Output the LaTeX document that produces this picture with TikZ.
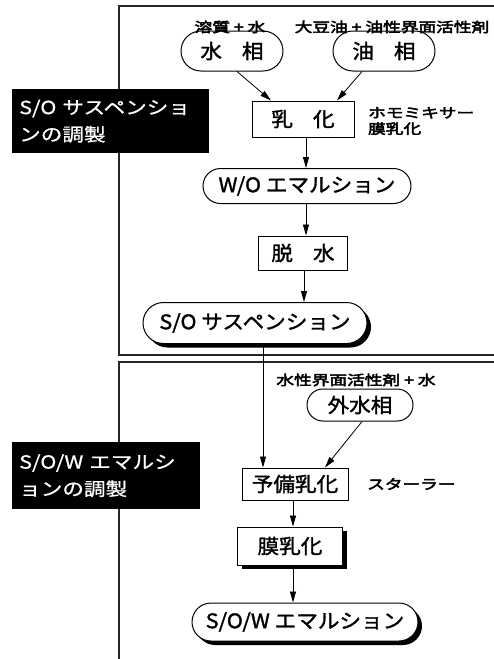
\documentclass[tikz,border=0pt]{standalone}
\usepackage{fontspec}
\usetikzlibrary{shapes.misc,shadows,arrows.meta,calc}
\newfontfamily\jp[FakeStretch=1.08,FakeBold=1.5]{Noto Sans CJK JP}
\newfontfamily\jpw[FakeStretch=1.2,FakeBold=0.8]{Noto Sans CJK JP}
\newfontfamily\jpl[FakeStretch=1.3,FakeBold=3.5]{Noto Sans CJK JP}
\begin{document}
\begin{tikzpicture}[x=1pt,y=-1pt,
  stadium/.style={rounded rectangle, draw, line width=1pt, inner sep=0pt,
    font=\jp\fontsize{20}{22}\selectfont},
  boxn/.style={rectangle, draw, line width=1pt, inner sep=0pt, fill=white,
    font=\jp\fontsize{20}{22}\selectfont},
  shad/.style={drop shadow={shadow xshift=4pt, shadow yshift=-4pt, fill=black, opacity=1}},
  lab/.style={font=\jpl\fontsize{13.6}{14}\selectfont, inner sep=0pt},
  side/.style={font=\jpl\fontsize{13.6}{16}\selectfont, inner sep=0pt, anchor=west, align=left},
  titlebox/.style={fill=black, text=white, font=\jpw\fontsize{18}{27}\selectfont,
    align=left, anchor=north west, inner xsep=7pt, inner ysep=0pt},
  frame/.style={line width=1.3pt, draw=black!85},
  arr/.style={-{Triangle[length=11pt,width=6pt]}, line width=0.8pt}]
\useasboundingbox (0,0) rectangle (494,659);
\fill[white] (0,0) rectangle (494,659);
% frames
\draw[frame] (494,6) -- (119,6) -- (119,355) -- (494,355);
\draw[frame] (494,362) -- (119,362) -- (119,659);
% title boxes
\node[titlebox, minimum width=197pt, minimum height=64pt, text width=183pt] (t1) at (12,89)
  {S/O サスペンショ\\ンの調製};
\node[titlebox, minimum width=188pt, minimum height=67pt, text width=174pt] (t2) at (12,442)
  {S/O/W エマルシ\\ョンの調製};
% nodes
\node[stadium, minimum width=102pt, minimum height=40pt] (wp) at (232,51) {水\hspace{1em}相};
\node[stadium, minimum width=102pt, minimum height=40pt] (op) at (384,51) {油\hspace{1em}相};
\node[boxn, minimum width=102pt, minimum height=36pt] (emul) at (303,119) {乳\hspace{1em}化};
\node[stadium, minimum width=208pt, minimum height=35pt] (wo) at (307,186) {W/O エマルション};
\node[boxn, minimum width=89pt, minimum height=34pt] (dehyd) at (303,253) {脱\hspace{1em}水};
\node[stadium, shad, fill=white, minimum width=224pt, minimum height=41pt] (so) at (255,323) {S/O サスペンション};
\node[stadium, minimum width=106pt, minimum height=32pt] (ow) at (360,405) {外水相};
\node[boxn, minimum width=106pt, minimum height=32pt] (pre) at (295,484) {予備乳化};
\node[boxn, shad, minimum width=105pt, minimum height=38pt] (mem) at (290,546) {膜乳化};
\node[stadium, shad, fill=white, minimum width=226pt, minimum height=38pt] (sow) at (305,622) {S/O/W エマルション};
% labels
\node[lab] (l1) at (230,27) {溶質 + 水};
\node[lab] (l2) at (392,27) {大豆油 + 油性界面活性剤};
\node[side] (l3) at (368,121) {ホモミキサー\\膜乳化};
\node[lab] (l4) at (356,380) {水性界面活性剤 + 水};
\node[side] (l5) at (367,484) {スターラー};
% connectors
\draw[arr] ($(wp.south)+(5,0)$) -- ($(emul.north)+(-32,0)$);
\draw[arr] ($(op.south)+(-22,0)$) -- ($(emul.north)+(34,0)$);
\draw[arr] (emul.south -| 306,0) -- (wo.north -| 306,0);
\draw[arr] (wo.south -| 306,0) -- (dehyd.north -| 306,0);
\draw[arr] (dehyd.south -| 304,0) -- (so.north -| 304,0);
\draw[arr] (so.south -| 263,0) -- (pre.north -| 263,0);
\draw[arr] ($(ow.south)+(2,0)$) -- ($(pre.north)+(30,0)$);
\draw[arr] (pre.south -| 293,0) -- (mem.north -| 293,0);
\draw[arr] (mem.south -| 293,0) -- (sow.north -| 293,0);
\end{tikzpicture}
\end{document}
